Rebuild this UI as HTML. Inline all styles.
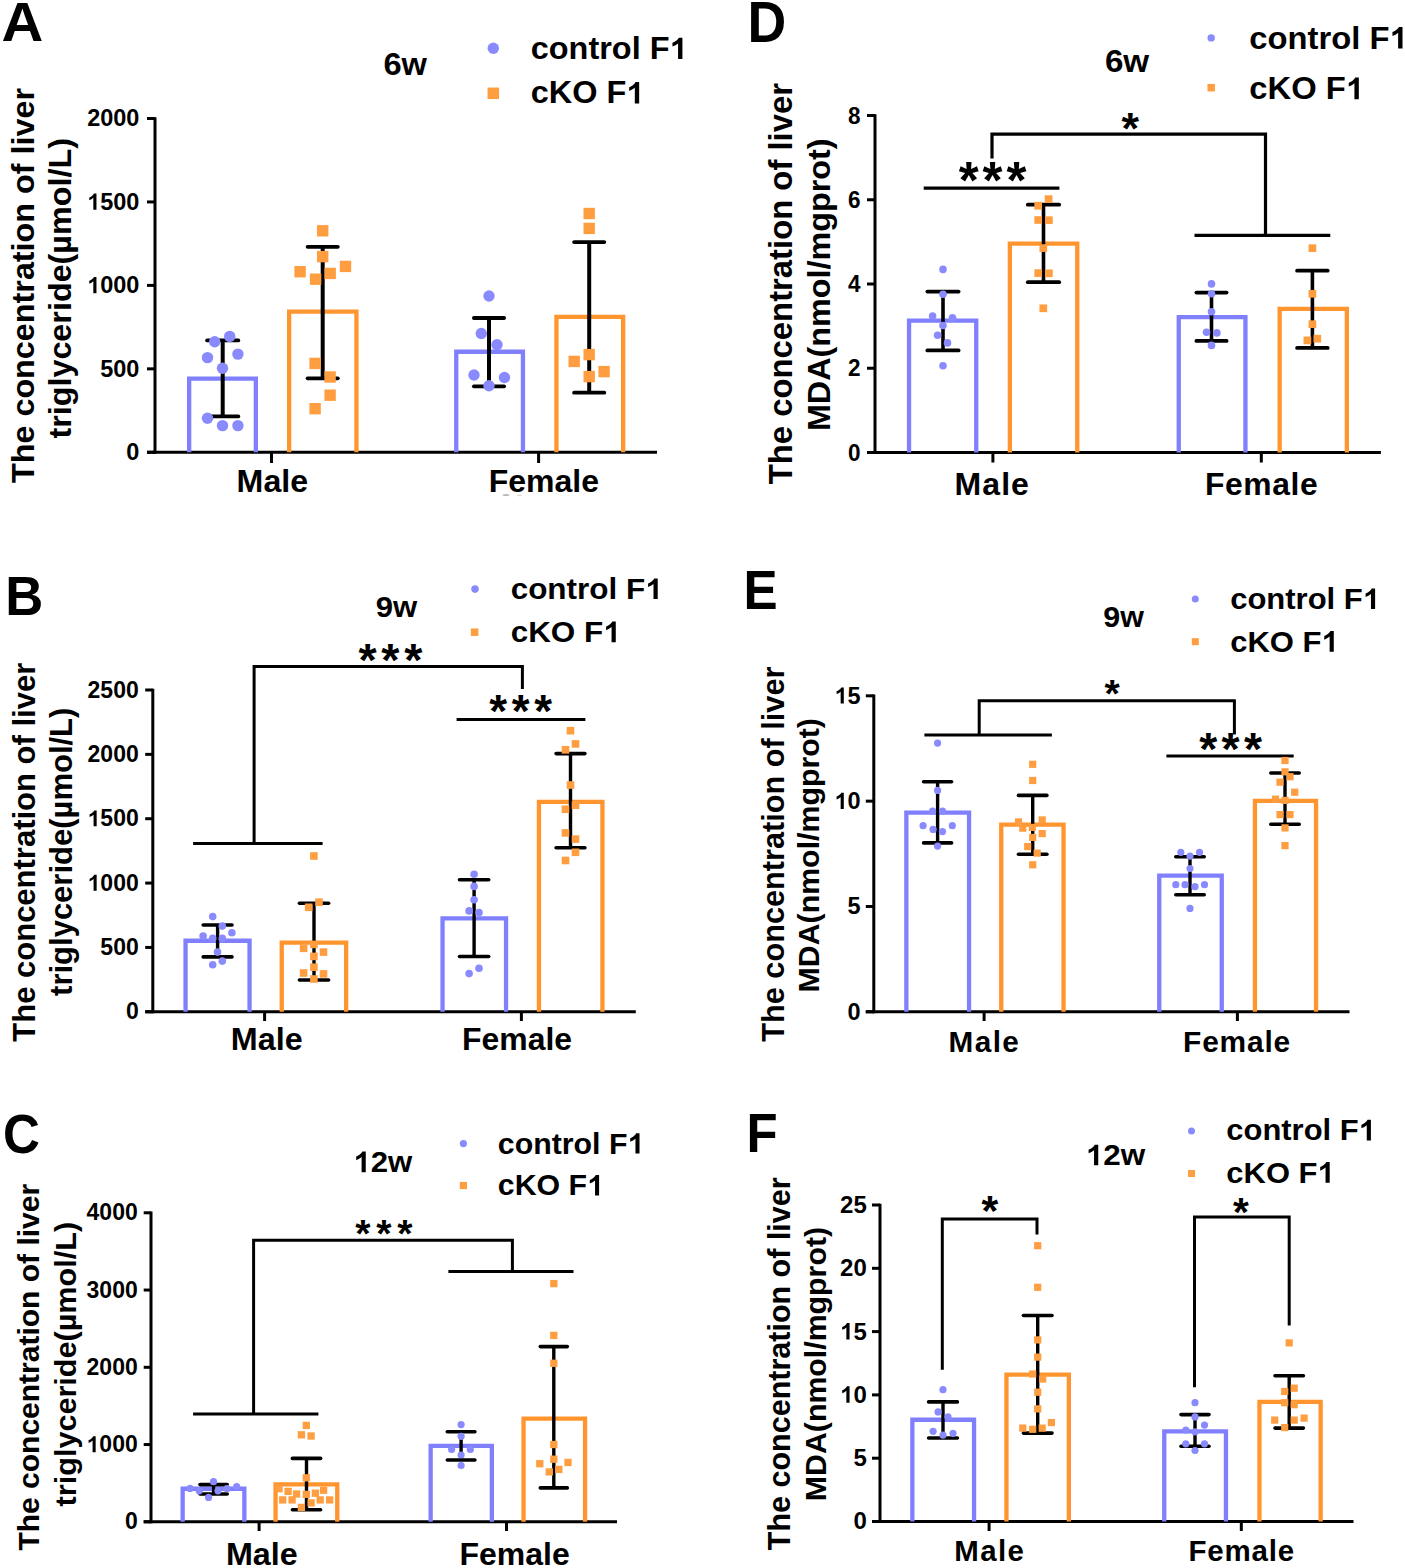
<!DOCTYPE html>
<html><head><meta charset="utf-8"><title>Figure</title>
<style>
html,body{margin:0;padding:0;background:#fff;}
body{width:1405px;height:1568px;overflow:hidden;}
svg{display:block;}
text{font-family:"Liberation Sans", sans-serif;fill:#000;font-kerning:none;}
</style></head>
<body>
<svg width="1405" height="1568" viewBox="0 0 1405 1568">
<rect width="1405" height="1568" fill="#fff"/>
<text transform="translate(1.55 41.4) scale(1.0300 1)" font-size="56.2" font-weight="bold">A</text>
<text transform="translate(383.46 75.4) scale(1.0192 1)" font-size="32" font-weight="bold">6w</text>
<circle cx="493.3" cy="48.2" r="5.7" fill="#8A8AFF"/>
<rect x="487.55" y="87.55" width="11.5" height="11.5" fill="#FF9E40"/>
<g transform="translate(530.7 59) scale(1.0472 1)"><text x="0" y="0" font-size="31" font-weight="bold">control F </text><path transform="translate(132.6 0) scale(0.01514 -0.01514)" d="M811 0H537V1032C437 938 319 869 183 824V1072C255 1095 333 1139 417 1203C501 1268 559 1343 590 1409H811Z"/></g>
<g transform="translate(530.7 103.4) scale(1.0472 1)"><text x="0" y="0" font-size="31" font-weight="bold">cKO F </text><path transform="translate(91.29 0) scale(0.01514 -0.01514)" d="M811 0H537V1032C437 938 319 869 183 824V1072C255 1095 333 1139 417 1203C501 1268 559 1343 590 1409H811Z"/></g>
<line x1="155" y1="117.3" x2="155" y2="453.8" stroke="#000" stroke-width="3" stroke-linecap="butt"/>
<line x1="147" y1="452.3" x2="657" y2="452.3" stroke="#000" stroke-width="3" stroke-linecap="butt"/>
<line x1="147" y1="452.3" x2="155" y2="452.3" stroke="#000" stroke-width="3" stroke-linecap="butt"/>
<text transform="translate(126.37 460.06)" font-size="23.5" font-weight="bold">0</text>
<line x1="147" y1="368.85" x2="155" y2="368.85" stroke="#000" stroke-width="3" stroke-linecap="butt"/>
<text transform="translate(100.23 376.61)" font-size="23.5" font-weight="bold">500</text>
<line x1="147" y1="285.4" x2="155" y2="285.4" stroke="#000" stroke-width="3" stroke-linecap="butt"/>
<g transform="translate(87.16 293.15)"><text x="0" y="0" font-size="23.5" font-weight="bold"> 000</text><path transform="translate(0 0) scale(0.01147 -0.01147)" d="M811 0H537V1032C437 938 319 869 183 824V1072C255 1095 333 1139 417 1203C501 1268 559 1343 590 1409H811Z"/></g>
<line x1="147" y1="201.95" x2="155" y2="201.95" stroke="#000" stroke-width="3" stroke-linecap="butt"/>
<g transform="translate(87.16 209.7)"><text x="0" y="0" font-size="23.5" font-weight="bold"> 500</text><path transform="translate(0 0) scale(0.01147 -0.01147)" d="M811 0H537V1032C437 938 319 869 183 824V1072C255 1095 333 1139 417 1203C501 1268 559 1343 590 1409H811Z"/></g>
<line x1="147" y1="118.5" x2="155" y2="118.5" stroke="#000" stroke-width="3" stroke-linecap="butt"/>
<text transform="translate(87.16 126.25)" font-size="23.5" font-weight="bold">2000</text>
<line x1="271.5" y1="452.3" x2="271.5" y2="463" stroke="#000" stroke-width="3" stroke-linecap="butt"/>
<line x1="538.6" y1="452.3" x2="538.6" y2="463" stroke="#000" stroke-width="3" stroke-linecap="butt"/>
<text transform="translate(236.61 491.6) scale(1.0377 1)" font-size="31" font-weight="bold">Male</text>
<text transform="translate(488.72 491.7) scale(1.0328 1)" font-size="31" font-weight="bold">Female</text>
<text transform="translate(33.5 483.02) rotate(-90) scale(1.01 1)" font-size="32" font-weight="bold">The concentration of liver</text>
<text transform="translate(71 438.62) rotate(-90) scale(1.01 1)" font-size="32" font-weight="bold">triglyceride(µmol/L)</text>
<path d="M189.15 452.3 V378.65 H255.85 V452.3" fill="none" stroke="#8080FF" stroke-width="4.3" stroke-linejoin="miter"/>
<path d="M289.15 452.3 V311.65 H356.45 V452.3" fill="none" stroke="#FF952E" stroke-width="4.3" stroke-linejoin="miter"/>
<path d="M456.25 452.3 V351.75 H522.95 V452.3" fill="none" stroke="#8080FF" stroke-width="4.3" stroke-linejoin="miter"/>
<path d="M556.45 452.3 V316.95 H623.15 V452.3" fill="none" stroke="#FF952E" stroke-width="4.3" stroke-linejoin="miter"/>
<line x1="222.7" y1="340.4" x2="222.7" y2="416.4" stroke="#000" stroke-width="4" stroke-linecap="butt"/>
<line x1="207.1" y1="340.4" x2="238.3" y2="340.4" stroke="#000" stroke-width="3.8" stroke-linecap="round"/>
<line x1="207.1" y1="416.4" x2="238.3" y2="416.4" stroke="#000" stroke-width="3.8" stroke-linecap="round"/>
<line x1="322.7" y1="246.8" x2="322.7" y2="378.3" stroke="#000" stroke-width="4" stroke-linecap="butt"/>
<line x1="307.6" y1="246.8" x2="337.8" y2="246.8" stroke="#000" stroke-width="3.8" stroke-linecap="round"/>
<line x1="307.6" y1="378.3" x2="337.8" y2="378.3" stroke="#000" stroke-width="3.8" stroke-linecap="round"/>
<line x1="489" y1="318" x2="489" y2="386.3" stroke="#000" stroke-width="4" stroke-linecap="butt"/>
<line x1="473.9" y1="318" x2="504.1" y2="318" stroke="#000" stroke-width="3.8" stroke-linecap="round"/>
<line x1="473.9" y1="386.3" x2="504.1" y2="386.3" stroke="#000" stroke-width="3.8" stroke-linecap="round"/>
<line x1="589.2" y1="242.1" x2="589.2" y2="392.7" stroke="#000" stroke-width="4" stroke-linecap="butt"/>
<line x1="574.1" y1="242.1" x2="604.3" y2="242.1" stroke="#000" stroke-width="3.8" stroke-linecap="round"/>
<line x1="574.1" y1="392.7" x2="604.3" y2="392.7" stroke="#000" stroke-width="3.8" stroke-linecap="round"/>
<circle cx="214.7" cy="341.7" r="5.7" fill="#8A8AFF"/>
<circle cx="229.7" cy="336.4" r="5.7" fill="#8A8AFF"/>
<circle cx="237.9" cy="354.1" r="5.7" fill="#8A8AFF"/>
<circle cx="207.5" cy="357.6" r="5.7" fill="#8A8AFF"/>
<circle cx="222.5" cy="368.3" r="5.7" fill="#8A8AFF"/>
<circle cx="207.5" cy="418.2" r="5.7" fill="#8A8AFF"/>
<circle cx="222.5" cy="425.6" r="5.7" fill="#8A8AFF"/>
<circle cx="237.9" cy="425.6" r="5.7" fill="#8A8AFF"/>
<circle cx="489" cy="296" r="5.7" fill="#8A8AFF"/>
<circle cx="481.3" cy="333.5" r="5.7" fill="#8A8AFF"/>
<circle cx="497" cy="344.7" r="5.7" fill="#8A8AFF"/>
<circle cx="474" cy="375" r="5.7" fill="#8A8AFF"/>
<circle cx="504.5" cy="377.5" r="5.7" fill="#8A8AFF"/>
<circle cx="489" cy="385.8" r="5.7" fill="#8A8AFF"/>
<rect x="317" y="225.1" width="11.4" height="11.4" fill="#FF9E40"/>
<rect x="317" y="250.9" width="11.4" height="11.4" fill="#FF9E40"/>
<rect x="294.4" y="266" width="11.4" height="11.4" fill="#FF9E40"/>
<rect x="339.8" y="260.7" width="11.4" height="11.4" fill="#FF9E40"/>
<rect x="324.5" y="267.7" width="11.4" height="11.4" fill="#FF9E40"/>
<rect x="309.9" y="273.5" width="11.4" height="11.4" fill="#FF9E40"/>
<rect x="309.4" y="357.7" width="11.4" height="11.4" fill="#FF9E40"/>
<rect x="324.4" y="371.3" width="11.4" height="11.4" fill="#FF9E40"/>
<rect x="324.4" y="389.5" width="11.4" height="11.4" fill="#FF9E40"/>
<rect x="309.4" y="403" width="11.4" height="11.4" fill="#FF9E40"/>
<rect x="583.5" y="207.8" width="11.4" height="11.4" fill="#FF9E40"/>
<rect x="583.5" y="222.7" width="11.4" height="11.4" fill="#FF9E40"/>
<rect x="583.5" y="348.9" width="11.4" height="11.4" fill="#FF9E40"/>
<rect x="568.5" y="355.7" width="11.4" height="11.4" fill="#FF9E40"/>
<rect x="598.4" y="365.9" width="11.4" height="11.4" fill="#FF9E40"/>
<rect x="583.5" y="370.9" width="11.4" height="11.4" fill="#FF9E40"/>
<text transform="translate(5.18 614.8) scale(0.9440 1)" font-size="55.8" font-weight="bold">B</text>
<text transform="translate(375.81 616.8) scale(1.0716 1)" font-size="29" font-weight="bold">9w</text>
<circle cx="475" cy="589.1" r="3.8" fill="#8A8AFF"/>
<rect x="470.85" y="628.45" width="7.5" height="7.5" fill="#FF9E40"/>
<g transform="translate(510.64 599.1) scale(1.0490 1)"><text x="0" y="0" font-size="30" font-weight="bold">control F </text><path transform="translate(128.32 0) scale(0.01465 -0.01465)" d="M811 0H537V1032C437 938 319 869 183 824V1072C255 1095 333 1139 417 1203C501 1268 559 1343 590 1409H811Z"/></g>
<g transform="translate(510.64 642.2) scale(1.0490 1)"><text x="0" y="0" font-size="30" font-weight="bold">cKO F </text><path transform="translate(88.34 0) scale(0.01465 -0.01465)" d="M811 0H537V1032C437 938 319 869 183 824V1072C255 1095 333 1139 417 1203C501 1268 559 1343 590 1409H811Z"/></g>
<line x1="152.8" y1="688.8" x2="152.8" y2="1013.3" stroke="#000" stroke-width="3" stroke-linecap="butt"/>
<line x1="145.2" y1="1011.8" x2="635.8" y2="1011.8" stroke="#000" stroke-width="3" stroke-linecap="butt"/>
<line x1="145.2" y1="1011.8" x2="152.8" y2="1011.8" stroke="#000" stroke-width="3" stroke-linecap="butt"/>
<text transform="translate(125.93 1019.39)" font-size="23" font-weight="bold">0</text>
<line x1="145.2" y1="947.44" x2="152.8" y2="947.44" stroke="#000" stroke-width="3" stroke-linecap="butt"/>
<text transform="translate(100.35 955.03)" font-size="23" font-weight="bold">500</text>
<line x1="145.2" y1="883.08" x2="152.8" y2="883.08" stroke="#000" stroke-width="3" stroke-linecap="butt"/>
<g transform="translate(87.55 890.67)"><text x="0" y="0" font-size="23" font-weight="bold"> 000</text><path transform="translate(0 0) scale(0.01123 -0.01123)" d="M811 0H537V1032C437 938 319 869 183 824V1072C255 1095 333 1139 417 1203C501 1268 559 1343 590 1409H811Z"/></g>
<line x1="145.2" y1="818.72" x2="152.8" y2="818.72" stroke="#000" stroke-width="3" stroke-linecap="butt"/>
<g transform="translate(87.55 826.31)"><text x="0" y="0" font-size="23" font-weight="bold"> 500</text><path transform="translate(0 0) scale(0.01123 -0.01123)" d="M811 0H537V1032C437 938 319 869 183 824V1072C255 1095 333 1139 417 1203C501 1268 559 1343 590 1409H811Z"/></g>
<line x1="145.2" y1="754.36" x2="152.8" y2="754.36" stroke="#000" stroke-width="3" stroke-linecap="butt"/>
<text transform="translate(87.55 761.95)" font-size="23" font-weight="bold">2000</text>
<line x1="145.2" y1="690" x2="152.8" y2="690" stroke="#000" stroke-width="3" stroke-linecap="butt"/>
<text transform="translate(87.55 697.59)" font-size="23" font-weight="bold">2500</text>
<line x1="264.6" y1="1011.8" x2="264.6" y2="1021" stroke="#000" stroke-width="3" stroke-linecap="butt"/>
<line x1="521.4" y1="1011.8" x2="521.4" y2="1021" stroke="#000" stroke-width="3" stroke-linecap="butt"/>
<text transform="translate(230.8 1049.9) scale(1.0423 1)" font-size="31" font-weight="bold">Male</text>
<text transform="translate(462.02 1050.4) scale(1.0309 1)" font-size="31" font-weight="bold">Female</text>
<text transform="translate(34.8 1041.71) rotate(-90) scale(1 1)" font-size="31" font-weight="bold">The concentration of liver</text>
<text transform="translate(71.9 995.91) rotate(-90) scale(1 1)" font-size="31" font-weight="bold">triglyceride(µmol/L)</text>
<path d="M185.55 1011.8 V940.75 H249.55 V1011.8" fill="none" stroke="#8080FF" stroke-width="4.3" stroke-linejoin="miter"/>
<path d="M281.75 1011.8 V942.65 H346.15 V1011.8" fill="none" stroke="#FF952E" stroke-width="4.3" stroke-linejoin="miter"/>
<path d="M442.55 1011.8 V918.45 H506.05 V1011.8" fill="none" stroke="#8080FF" stroke-width="4.3" stroke-linejoin="miter"/>
<path d="M538.95 1011.8 V801.85 H602.45 V1011.8" fill="none" stroke="#FF952E" stroke-width="4.3" stroke-linejoin="miter"/>
<line x1="217.6" y1="925" x2="217.6" y2="956.9" stroke="#000" stroke-width="3.4" stroke-linecap="butt"/>
<line x1="203.2" y1="925" x2="232" y2="925" stroke="#000" stroke-width="3.6" stroke-linecap="round"/>
<line x1="203.2" y1="956.9" x2="232" y2="956.9" stroke="#000" stroke-width="3.6" stroke-linecap="round"/>
<line x1="314" y1="903.2" x2="314" y2="980" stroke="#000" stroke-width="3.4" stroke-linecap="butt"/>
<line x1="299.4" y1="903.2" x2="328.6" y2="903.2" stroke="#000" stroke-width="3.6" stroke-linecap="round"/>
<line x1="299.4" y1="980" x2="328.6" y2="980" stroke="#000" stroke-width="3.6" stroke-linecap="round"/>
<line x1="474.1" y1="879.7" x2="474.1" y2="956.5" stroke="#000" stroke-width="3.4" stroke-linecap="butt"/>
<line x1="459.5" y1="879.7" x2="488.7" y2="879.7" stroke="#000" stroke-width="3.6" stroke-linecap="round"/>
<line x1="459.5" y1="956.5" x2="488.7" y2="956.5" stroke="#000" stroke-width="3.6" stroke-linecap="round"/>
<line x1="570.5" y1="753.6" x2="570.5" y2="847.8" stroke="#000" stroke-width="3.4" stroke-linecap="butt"/>
<line x1="556.1" y1="753.6" x2="584.9" y2="753.6" stroke="#000" stroke-width="3.6" stroke-linecap="round"/>
<line x1="556.1" y1="847.8" x2="584.9" y2="847.8" stroke="#000" stroke-width="3.6" stroke-linecap="round"/>
<polyline points="193.1,843.6 322.6,843.6" fill="none" stroke="#000" stroke-width="3" stroke-linejoin="miter" stroke-linecap="butt"/>
<polyline points="254.1,843.6 254.1,666.6 522.4,666.6 522.4,689" fill="none" stroke="#000" stroke-width="3" stroke-linejoin="miter" stroke-linecap="butt"/>
<polyline points="456.6,719.4 585.4,719.4" fill="none" stroke="#000" stroke-width="3" stroke-linejoin="miter" stroke-linecap="butt"/>
<text x="358.47" y="675.94" font-size="46.7" font-weight="bold">*</text>
<text x="381.34" y="675.94" font-size="46.7" font-weight="bold">*</text>
<text x="404.22" y="675.94" font-size="46.7" font-weight="bold">*</text>
<text x="489.27" y="727.17" font-size="45.84" font-weight="bold">*</text>
<text x="511.71" y="727.17" font-size="45.84" font-weight="bold">*</text>
<text x="534.15" y="727.17" font-size="45.84" font-weight="bold">*</text>
<circle cx="212.7" cy="916.6" r="3.8" fill="#8A8AFF"/>
<circle cx="222.3" cy="926.1" r="3.8" fill="#8A8AFF"/>
<circle cx="231.9" cy="932.7" r="3.8" fill="#8A8AFF"/>
<circle cx="203.1" cy="936.1" r="3.8" fill="#8A8AFF"/>
<circle cx="212.7" cy="938.4" r="3.8" fill="#8A8AFF"/>
<circle cx="222.3" cy="938.4" r="3.8" fill="#8A8AFF"/>
<circle cx="217.5" cy="952.1" r="3.8" fill="#8A8AFF"/>
<circle cx="222.3" cy="961.1" r="3.8" fill="#8A8AFF"/>
<circle cx="212.7" cy="964.7" r="3.8" fill="#8A8AFF"/>
<circle cx="474.1" cy="874.2" r="3.8" fill="#8A8AFF"/>
<circle cx="474.1" cy="886.4" r="3.8" fill="#8A8AFF"/>
<circle cx="474.1" cy="899.7" r="3.8" fill="#8A8AFF"/>
<circle cx="469.1" cy="910.9" r="3.8" fill="#8A8AFF"/>
<circle cx="479" cy="912.6" r="3.8" fill="#8A8AFF"/>
<circle cx="479" cy="968.2" r="3.8" fill="#8A8AFF"/>
<circle cx="469.1" cy="973.6" r="3.8" fill="#8A8AFF"/>
<rect x="310.1" y="852.2" width="7.6" height="7.6" fill="#FF9E40"/>
<rect x="315.2" y="898.4" width="7.6" height="7.6" fill="#FF9E40"/>
<rect x="304.9" y="903.5" width="7.6" height="7.6" fill="#FF9E40"/>
<rect x="310.1" y="940.6" width="7.6" height="7.6" fill="#FF9E40"/>
<rect x="299.8" y="944.5" width="7.6" height="7.6" fill="#FF9E40"/>
<rect x="319.7" y="948.3" width="7.6" height="7.6" fill="#FF9E40"/>
<rect x="310.1" y="952.6" width="7.6" height="7.6" fill="#FF9E40"/>
<rect x="310.1" y="963.4" width="7.6" height="7.6" fill="#FF9E40"/>
<rect x="299.8" y="969.2" width="7.6" height="7.6" fill="#FF9E40"/>
<rect x="319.7" y="970.1" width="7.6" height="7.6" fill="#FF9E40"/>
<rect x="310.1" y="975.2" width="7.6" height="7.6" fill="#FF9E40"/>
<rect x="566.7" y="726.9" width="7.6" height="7.6" fill="#FF9E40"/>
<rect x="571.7" y="740.1" width="7.6" height="7.6" fill="#FF9E40"/>
<rect x="561.7" y="746" width="7.6" height="7.6" fill="#FF9E40"/>
<rect x="566.7" y="781.2" width="7.6" height="7.6" fill="#FF9E40"/>
<rect x="571.7" y="801.4" width="7.6" height="7.6" fill="#FF9E40"/>
<rect x="561.7" y="805.5" width="7.6" height="7.6" fill="#FF9E40"/>
<rect x="561.7" y="829.1" width="7.6" height="7.6" fill="#FF9E40"/>
<rect x="571.7" y="835.3" width="7.6" height="7.6" fill="#FF9E40"/>
<rect x="571.7" y="848.5" width="7.6" height="7.6" fill="#FF9E40"/>
<rect x="561.7" y="856.7" width="7.6" height="7.6" fill="#FF9E40"/>
<text transform="translate(2.96 1152.8) scale(0.9150 1)" font-size="55.8" font-weight="bold">C</text>
<g transform="translate(353.43 1172.2) scale(1.0383 1)"><text x="0" y="0" font-size="30" font-weight="bold"> 2w</text><path transform="translate(0 0) scale(0.01465 -0.01465)" d="M811 0H537V1032C437 938 319 869 183 824V1072C255 1095 333 1139 417 1203C501 1268 559 1343 590 1409H811Z"/></g>
<circle cx="463.4" cy="1143.6" r="3.6" fill="#8A8AFF"/>
<rect x="459.8" y="1181.9" width="7.2" height="7.2" fill="#FF9E40"/>
<g transform="translate(497.79 1153.6) scale(1.0280 1)"><text x="0" y="0" font-size="29.5" font-weight="bold">control F </text><path transform="translate(126.18 0) scale(0.01440 -0.01440)" d="M811 0H537V1032C437 938 319 869 183 824V1072C255 1095 333 1139 417 1203C501 1268 559 1343 590 1409H811Z"/></g>
<g transform="translate(497.79 1195.4) scale(1.0280 1)"><text x="0" y="0" font-size="29.5" font-weight="bold">cKO F </text><path transform="translate(86.87 0) scale(0.01440 -0.01440)" d="M811 0H537V1032C437 938 319 869 183 824V1072C255 1095 333 1139 417 1203C501 1268 559 1343 590 1409H811Z"/></g>
<line x1="151" y1="1211.6" x2="151" y2="1523.3" stroke="#000" stroke-width="3" stroke-linecap="butt"/>
<line x1="143.7" y1="1521.8" x2="617" y2="1521.8" stroke="#000" stroke-width="3" stroke-linecap="butt"/>
<line x1="143.7" y1="1521.8" x2="151" y2="1521.8" stroke="#000" stroke-width="3" stroke-linecap="butt"/>
<text transform="translate(124.93 1529.39)" font-size="23" font-weight="bold">0</text>
<line x1="143.7" y1="1444.55" x2="151" y2="1444.55" stroke="#000" stroke-width="3" stroke-linecap="butt"/>
<g transform="translate(86.55 1452.14)"><text x="0" y="0" font-size="23" font-weight="bold"> 000</text><path transform="translate(0 0) scale(0.01123 -0.01123)" d="M811 0H537V1032C437 938 319 869 183 824V1072C255 1095 333 1139 417 1203C501 1268 559 1343 590 1409H811Z"/></g>
<line x1="143.7" y1="1367.3" x2="151" y2="1367.3" stroke="#000" stroke-width="3" stroke-linecap="butt"/>
<text transform="translate(86.55 1374.89)" font-size="23" font-weight="bold">2000</text>
<line x1="143.7" y1="1290.05" x2="151" y2="1290.05" stroke="#000" stroke-width="3" stroke-linecap="butt"/>
<text transform="translate(86.55 1297.64)" font-size="23" font-weight="bold">3000</text>
<line x1="143.7" y1="1212.8" x2="151" y2="1212.8" stroke="#000" stroke-width="3" stroke-linecap="butt"/>
<text transform="translate(86.55 1220.39)" font-size="23" font-weight="bold">4000</text>
<line x1="259.1" y1="1521.8" x2="259.1" y2="1531" stroke="#000" stroke-width="3" stroke-linecap="butt"/>
<line x1="506.5" y1="1521.8" x2="506.5" y2="1531" stroke="#000" stroke-width="3" stroke-linecap="butt"/>
<text transform="translate(225.9 1564.6) scale(1.0423 1)" font-size="31" font-weight="bold">Male</text>
<text transform="translate(459.52 1564.6) scale(1.0328 1)" font-size="31" font-weight="bold">Female</text>
<text transform="translate(38.5 1550.6) rotate(-90) scale(1 1)" font-size="30" font-weight="bold">The concentration of liver</text>
<text transform="translate(75.5 1506.4) rotate(-90) scale(1.02 1)" font-size="30" font-weight="bold">triglyceride(µmol/L)</text>
<path d="M182.65 1521.8 V1488.75 H244.35 V1521.8" fill="none" stroke="#8080FF" stroke-width="4.3" stroke-linejoin="miter"/>
<path d="M275.55 1521.8 V1484.45 H337.25 V1521.8" fill="none" stroke="#FF952E" stroke-width="4.3" stroke-linejoin="miter"/>
<path d="M430.65 1521.8 V1445.95 H491.85 V1521.8" fill="none" stroke="#8080FF" stroke-width="4.3" stroke-linejoin="miter"/>
<path d="M523.55 1521.8 V1418.55 H585.05 V1521.8" fill="none" stroke="#FF952E" stroke-width="4.3" stroke-linejoin="miter"/>
<line x1="213.6" y1="1484.6" x2="213.6" y2="1494" stroke="#000" stroke-width="3.4" stroke-linecap="butt"/>
<line x1="200" y1="1484.6" x2="227.2" y2="1484.6" stroke="#000" stroke-width="3.6" stroke-linecap="round"/>
<line x1="200" y1="1494" x2="227.2" y2="1494" stroke="#000" stroke-width="3.6" stroke-linecap="round"/>
<line x1="306.5" y1="1458.4" x2="306.5" y2="1509.8" stroke="#000" stroke-width="3.4" stroke-linecap="butt"/>
<line x1="292.4" y1="1458.4" x2="320.6" y2="1458.4" stroke="#000" stroke-width="3.6" stroke-linecap="round"/>
<line x1="292.4" y1="1509.8" x2="320.6" y2="1509.8" stroke="#000" stroke-width="3.6" stroke-linecap="round"/>
<line x1="461.1" y1="1431.8" x2="461.1" y2="1460" stroke="#000" stroke-width="3.4" stroke-linecap="butt"/>
<line x1="447.3" y1="1431.8" x2="474.9" y2="1431.8" stroke="#000" stroke-width="3.6" stroke-linecap="round"/>
<line x1="447.3" y1="1460" x2="474.9" y2="1460" stroke="#000" stroke-width="3.6" stroke-linecap="round"/>
<line x1="553.8" y1="1346.6" x2="553.8" y2="1487.9" stroke="#000" stroke-width="3.4" stroke-linecap="butt"/>
<line x1="540.3" y1="1346.6" x2="567.3" y2="1346.6" stroke="#000" stroke-width="3.6" stroke-linecap="round"/>
<line x1="540.3" y1="1487.9" x2="567.3" y2="1487.9" stroke="#000" stroke-width="3.6" stroke-linecap="round"/>
<polyline points="193.1,1413.9 318.4,1413.9" fill="none" stroke="#000" stroke-width="3" stroke-linejoin="miter" stroke-linecap="butt"/>
<polyline points="253.6,1413.9 253.6,1240.3 512.4,1240.3 512.4,1271.4" fill="none" stroke="#000" stroke-width="3" stroke-linejoin="miter" stroke-linecap="butt"/>
<polyline points="448.4,1271.4 573.5,1271.4" fill="none" stroke="#000" stroke-width="3" stroke-linejoin="miter" stroke-linecap="butt"/>
<text x="355.3" y="1247.06" font-size="39.25" font-weight="bold">*</text>
<text x="376.25" y="1247.06" font-size="39.25" font-weight="bold">*</text>
<text x="397.19" y="1247.06" font-size="39.25" font-weight="bold">*</text>
<circle cx="213.5" cy="1481.7" r="3.6" fill="#8A8AFF"/>
<circle cx="190.1" cy="1488.4" r="3.6" fill="#8A8AFF"/>
<circle cx="236.7" cy="1486.5" r="3.6" fill="#8A8AFF"/>
<circle cx="227" cy="1488.7" r="3.6" fill="#8A8AFF"/>
<circle cx="199.2" cy="1490.8" r="3.6" fill="#8A8AFF"/>
<circle cx="218" cy="1490.8" r="3.6" fill="#8A8AFF"/>
<circle cx="208.6" cy="1497.4" r="3.6" fill="#8A8AFF"/>
<circle cx="461.1" cy="1424.6" r="3.6" fill="#8A8AFF"/>
<circle cx="461.1" cy="1436.3" r="3.6" fill="#8A8AFF"/>
<circle cx="451.6" cy="1449.5" r="3.6" fill="#8A8AFF"/>
<circle cx="470.3" cy="1449.5" r="3.6" fill="#8A8AFF"/>
<circle cx="461.1" cy="1455" r="3.6" fill="#8A8AFF"/>
<circle cx="461.1" cy="1465.5" r="3.6" fill="#8A8AFF"/>
<rect x="302.65" y="1421.75" width="7.3" height="7.3" fill="#FF9E40"/>
<rect x="297.75" y="1431.15" width="7.3" height="7.3" fill="#FF9E40"/>
<rect x="307.45" y="1432.35" width="7.3" height="7.3" fill="#FF9E40"/>
<rect x="302.65" y="1474.15" width="7.3" height="7.3" fill="#FF9E40"/>
<rect x="275.35" y="1485.05" width="7.3" height="7.3" fill="#FF9E40"/>
<rect x="284.45" y="1487.75" width="7.3" height="7.3" fill="#FF9E40"/>
<rect x="292.95" y="1490.35" width="7.3" height="7.3" fill="#FF9E40"/>
<rect x="302.65" y="1490.75" width="7.3" height="7.3" fill="#FF9E40"/>
<rect x="311.75" y="1489.55" width="7.3" height="7.3" fill="#FF9E40"/>
<rect x="319.95" y="1486.55" width="7.3" height="7.3" fill="#FF9E40"/>
<rect x="279.05" y="1496.25" width="7.3" height="7.3" fill="#FF9E40"/>
<rect x="288.45" y="1496.25" width="7.3" height="7.3" fill="#FF9E40"/>
<rect x="316.55" y="1496.25" width="7.3" height="7.3" fill="#FF9E40"/>
<rect x="325.95" y="1496.25" width="7.3" height="7.3" fill="#FF9E40"/>
<rect x="307.45" y="1499.25" width="7.3" height="7.3" fill="#FF9E40"/>
<rect x="297.75" y="1503.75" width="7.3" height="7.3" fill="#FF9E40"/>
<rect x="550.15" y="1279.95" width="7.3" height="7.3" fill="#FF9E40"/>
<rect x="550.15" y="1331.75" width="7.3" height="7.3" fill="#FF9E40"/>
<rect x="550.15" y="1359.65" width="7.3" height="7.3" fill="#FF9E40"/>
<rect x="550.15" y="1440.85" width="7.3" height="7.3" fill="#FF9E40"/>
<rect x="550.15" y="1455.55" width="7.3" height="7.3" fill="#FF9E40"/>
<rect x="536.15" y="1460.05" width="7.3" height="7.3" fill="#FF9E40"/>
<rect x="564.35" y="1458.85" width="7.3" height="7.3" fill="#FF9E40"/>
<rect x="555.15" y="1465.75" width="7.3" height="7.3" fill="#FF9E40"/>
<rect x="545.65" y="1468.25" width="7.3" height="7.3" fill="#FF9E40"/>
<text transform="translate(747.51 41.5) scale(0.9500 1)" font-size="56.5" font-weight="bold">D</text>
<text transform="translate(1104.94 72.2) scale(1.0870 1)" font-size="30.5" font-weight="bold">6w</text>
<circle cx="1211.2" cy="37.9" r="3.7" fill="#8A8AFF"/>
<rect x="1207.45" y="83.95" width="7.5" height="7.5" fill="#FF9E40"/>
<g transform="translate(1249.29 48.6) scale(1.0408 1)"><text x="0" y="0" font-size="31.5" font-weight="bold">control F </text><path transform="translate(134.74 0) scale(0.01538 -0.01538)" d="M811 0H537V1032C437 938 319 869 183 824V1072C255 1095 333 1139 417 1203C501 1268 559 1343 590 1409H811Z"/></g>
<g transform="translate(1249.29 99.2) scale(1.0408 1)"><text x="0" y="0" font-size="31.5" font-weight="bold">cKO F </text><path transform="translate(92.76 0) scale(0.01538 -0.01538)" d="M811 0H537V1032C437 938 319 869 183 824V1072C255 1095 333 1139 417 1203C501 1268 559 1343 590 1409H811Z"/></g>
<line x1="875" y1="114.3" x2="875" y2="454" stroke="#000" stroke-width="3" stroke-linecap="butt"/>
<line x1="867" y1="452.5" x2="1380.9" y2="452.5" stroke="#000" stroke-width="3" stroke-linecap="butt"/>
<line x1="867" y1="452.5" x2="875" y2="452.5" stroke="#000" stroke-width="3" stroke-linecap="butt"/>
<text transform="translate(848.07 460.58) scale(0.9200 1)" font-size="24.5" font-weight="bold">0</text>
<line x1="867" y1="368.25" x2="875" y2="368.25" stroke="#000" stroke-width="3" stroke-linecap="butt"/>
<text transform="translate(848.07 376.33) scale(0.9200 1)" font-size="24.5" font-weight="bold">2</text>
<line x1="867" y1="284" x2="875" y2="284" stroke="#000" stroke-width="3" stroke-linecap="butt"/>
<text transform="translate(848.07 292.08) scale(0.9200 1)" font-size="24.5" font-weight="bold">4</text>
<line x1="867" y1="199.75" x2="875" y2="199.75" stroke="#000" stroke-width="3" stroke-linecap="butt"/>
<text transform="translate(848.07 207.84) scale(0.9200 1)" font-size="24.5" font-weight="bold">6</text>
<line x1="867" y1="115.5" x2="875" y2="115.5" stroke="#000" stroke-width="3" stroke-linecap="butt"/>
<text transform="translate(848.07 123.59) scale(0.9200 1)" font-size="24.5" font-weight="bold">8</text>
<line x1="992.9" y1="452.5" x2="992.9" y2="462.5" stroke="#000" stroke-width="3" stroke-linecap="butt"/>
<line x1="1261.3" y1="452.5" x2="1261.3" y2="462.5" stroke="#000" stroke-width="3" stroke-linecap="butt"/>
<text transform="translate(954.62 495.4) scale(1.0332 1)" font-size="31" font-weight="bold" letter-spacing="1">Male</text>
<text transform="translate(1204.93 494.8) scale(1.0272 1)" font-size="31" font-weight="bold" letter-spacing="0.6">Female</text>
<text transform="translate(791.5 484.23) rotate(-90) scale(1.01 1)" font-size="32.5" font-weight="bold">The concentration of liver</text>
<text transform="translate(830.4 431.1) rotate(-90) scale(1.01 1)" font-size="32" font-weight="bold">MDA(nmol/mgprot)</text>
<path d="M909.05 452.5 V320.65 H976.25 V452.5" fill="none" stroke="#8080FF" stroke-width="4.3" stroke-linejoin="miter"/>
<path d="M1009.85 452.5 V243.65 H1077.25 V452.5" fill="none" stroke="#FF952E" stroke-width="4.3" stroke-linejoin="miter"/>
<path d="M1178.75 452.5 V317.15 H1245.45 V452.5" fill="none" stroke="#8080FF" stroke-width="4.3" stroke-linejoin="miter"/>
<path d="M1279.65 452.5 V308.95 H1346.85 V452.5" fill="none" stroke="#FF952E" stroke-width="4.3" stroke-linejoin="miter"/>
<line x1="943" y1="291.6" x2="943" y2="350.4" stroke="#000" stroke-width="3.6" stroke-linecap="butt"/>
<line x1="927.4" y1="291.6" x2="958.6" y2="291.6" stroke="#000" stroke-width="3.8" stroke-linecap="round"/>
<line x1="927.4" y1="350.4" x2="958.6" y2="350.4" stroke="#000" stroke-width="3.8" stroke-linecap="round"/>
<line x1="1043.5" y1="204.7" x2="1043.5" y2="282.2" stroke="#000" stroke-width="3.6" stroke-linecap="butt"/>
<line x1="1027.8" y1="204.7" x2="1059.2" y2="204.7" stroke="#000" stroke-width="3.8" stroke-linecap="round"/>
<line x1="1027.8" y1="282.2" x2="1059.2" y2="282.2" stroke="#000" stroke-width="3.8" stroke-linecap="round"/>
<line x1="1211.5" y1="292.6" x2="1211.5" y2="340.9" stroke="#000" stroke-width="3.6" stroke-linecap="butt"/>
<line x1="1196.4" y1="292.6" x2="1226.6" y2="292.6" stroke="#000" stroke-width="3.8" stroke-linecap="round"/>
<line x1="1196.4" y1="340.9" x2="1226.6" y2="340.9" stroke="#000" stroke-width="3.8" stroke-linecap="round"/>
<line x1="1312.4" y1="270.7" x2="1312.4" y2="347.9" stroke="#000" stroke-width="3.6" stroke-linecap="butt"/>
<line x1="1297.1" y1="270.7" x2="1327.7" y2="270.7" stroke="#000" stroke-width="3.8" stroke-linecap="round"/>
<line x1="1297.1" y1="347.9" x2="1327.7" y2="347.9" stroke="#000" stroke-width="3.8" stroke-linecap="round"/>
<polyline points="923.7,188.2 1059.4,188.2" fill="none" stroke="#000" stroke-width="3.2" stroke-linejoin="miter" stroke-linecap="butt"/>
<polyline points="992,158.4 992,134.2 1265.5,134.2 1265.5,235.3" fill="none" stroke="#000" stroke-width="3.2" stroke-linejoin="miter" stroke-linecap="butt"/>
<polyline points="1194.5,235.3 1330.3,235.3" fill="none" stroke="#000" stroke-width="3.2" stroke-linejoin="miter" stroke-linecap="butt"/>
<text x="958.64" y="197.51" font-size="51.28" font-weight="bold">*</text>
<text x="982.55" y="197.51" font-size="51.28" font-weight="bold">*</text>
<text x="1006.46" y="197.51" font-size="51.28" font-weight="bold">*</text>
<text x="1121.58" y="143.79" font-size="44.98" font-weight="bold">*</text>
<circle cx="943" cy="269.4" r="3.8" fill="#8A8AFF"/>
<circle cx="943" cy="294.3" r="3.8" fill="#8A8AFF"/>
<circle cx="932.6" cy="316" r="3.8" fill="#8A8AFF"/>
<circle cx="952.5" cy="317.8" r="3.8" fill="#8A8AFF"/>
<circle cx="943" cy="325.5" r="3.8" fill="#8A8AFF"/>
<circle cx="937.6" cy="335.2" r="3.8" fill="#8A8AFF"/>
<circle cx="947.5" cy="342.9" r="3.8" fill="#8A8AFF"/>
<circle cx="943" cy="365.8" r="3.8" fill="#8A8AFF"/>
<circle cx="1211.5" cy="283.9" r="3.8" fill="#8A8AFF"/>
<circle cx="1211.5" cy="293.8" r="3.8" fill="#8A8AFF"/>
<circle cx="1211.5" cy="311.8" r="3.8" fill="#8A8AFF"/>
<circle cx="1206.5" cy="332.2" r="3.8" fill="#8A8AFF"/>
<circle cx="1216.9" cy="332.9" r="3.8" fill="#8A8AFF"/>
<circle cx="1211.5" cy="345.4" r="3.8" fill="#8A8AFF"/>
<rect x="1044.75" y="195.25" width="7.7" height="7.7" fill="#FF9E40"/>
<rect x="1034.35" y="201.85" width="7.7" height="7.7" fill="#FF9E40"/>
<rect x="1034.35" y="216.15" width="7.7" height="7.7" fill="#FF9E40"/>
<rect x="1045.05" y="216.35" width="7.7" height="7.7" fill="#FF9E40"/>
<rect x="1039.45" y="244.25" width="7.7" height="7.7" fill="#FF9E40"/>
<rect x="1034.35" y="269.25" width="7.7" height="7.7" fill="#FF9E40"/>
<rect x="1045.05" y="269.45" width="7.7" height="7.7" fill="#FF9E40"/>
<rect x="1039.45" y="304.45" width="7.7" height="7.7" fill="#FF9E40"/>
<rect x="1308.55" y="244.35" width="7.7" height="7.7" fill="#FF9E40"/>
<rect x="1308.55" y="289.95" width="7.7" height="7.7" fill="#FF9E40"/>
<rect x="1308.55" y="320.35" width="7.7" height="7.7" fill="#FF9E40"/>
<rect x="1303.55" y="336.55" width="7.7" height="7.7" fill="#FF9E40"/>
<rect x="1313.45" y="334.85" width="7.7" height="7.7" fill="#FF9E40"/>
<text transform="translate(743.48 609.1) scale(0.9150 1)" font-size="55.9" font-weight="bold">E</text>
<text transform="translate(1103.23 626.8) scale(1.0326 1)" font-size="29.5" font-weight="bold">9w</text>
<circle cx="1195.3" cy="599.1" r="3.5" fill="#8A8AFF"/>
<rect x="1191.8" y="638.2" width="7" height="7" fill="#FF9E40"/>
<g transform="translate(1230.16 609.1) scale(1.0339 1)"><text x="0" y="0" font-size="30" font-weight="bold">control F </text><path transform="translate(128.32 0) scale(0.01465 -0.01465)" d="M811 0H537V1032C437 938 319 869 183 824V1072C255 1095 333 1139 417 1203C501 1268 559 1343 590 1409H811Z"/></g>
<g transform="translate(1230.16 651.7) scale(1.0339 1)"><text x="0" y="0" font-size="30" font-weight="bold">cKO F </text><path transform="translate(88.34 0) scale(0.01465 -0.01465)" d="M811 0H537V1032C437 938 319 869 183 824V1072C255 1095 333 1139 417 1203C501 1268 559 1343 590 1409H811Z"/></g>
<line x1="873.8" y1="694.61" x2="873.8" y2="1013.3" stroke="#000" stroke-width="3" stroke-linecap="butt"/>
<line x1="865.8" y1="1011.8" x2="1349.5" y2="1011.8" stroke="#000" stroke-width="3" stroke-linecap="butt"/>
<line x1="865.8" y1="1011.8" x2="873.8" y2="1011.8" stroke="#000" stroke-width="3" stroke-linecap="butt"/>
<text transform="translate(847.57 1019.55)" font-size="23.5" font-weight="bold">0</text>
<line x1="865.8" y1="906.47" x2="873.8" y2="906.47" stroke="#000" stroke-width="3" stroke-linecap="butt"/>
<text transform="translate(847.57 914.22)" font-size="23.5" font-weight="bold">5</text>
<line x1="865.8" y1="801.14" x2="873.8" y2="801.14" stroke="#000" stroke-width="3" stroke-linecap="butt"/>
<g transform="translate(834.5 808.89)"><text x="0" y="0" font-size="23.5" font-weight="bold"> 0</text><path transform="translate(0 0) scale(0.01147 -0.01147)" d="M811 0H537V1032C437 938 319 869 183 824V1072C255 1095 333 1139 417 1203C501 1268 559 1343 590 1409H811Z"/></g>
<line x1="865.8" y1="695.81" x2="873.8" y2="695.81" stroke="#000" stroke-width="3" stroke-linecap="butt"/>
<g transform="translate(834.5 703.56)"><text x="0" y="0" font-size="23.5" font-weight="bold"> 5</text><path transform="translate(0 0) scale(0.01147 -0.01147)" d="M811 0H537V1032C437 938 319 869 183 824V1072C255 1095 333 1139 417 1203C501 1268 559 1343 590 1409H811Z"/></g>
<line x1="984.1" y1="1011.8" x2="984.1" y2="1021" stroke="#000" stroke-width="3" stroke-linecap="butt"/>
<line x1="1237.4" y1="1011.8" x2="1237.4" y2="1021" stroke="#000" stroke-width="3" stroke-linecap="butt"/>
<text transform="translate(948.57 1051.6) scale(1.0084 1)" font-size="29.5" font-weight="bold" letter-spacing="1.4">Male</text>
<text transform="translate(1183.05 1052.1) scale(1.0148 1)" font-size="29.5" font-weight="bold" letter-spacing="0.8">Female</text>
<text transform="translate(783.5 1041.71) rotate(-90) scale(1 1)" font-size="30.7" font-weight="bold">The concentration of liver</text>
<text transform="translate(819.3 992.38) rotate(-90) scale(1.01 1)" font-size="30" font-weight="bold">MDA(nmol/mgprot)</text>
<path d="M906.35 1011.8 V812.65 H969.05 V1011.8" fill="none" stroke="#8080FF" stroke-width="4.3" stroke-linejoin="miter"/>
<path d="M1001.25 1011.8 V824.55 H1063.55 V1011.8" fill="none" stroke="#FF952E" stroke-width="4.3" stroke-linejoin="miter"/>
<path d="M1159.25 1011.8 V875.65 H1221.75 V1011.8" fill="none" stroke="#8080FF" stroke-width="4.3" stroke-linejoin="miter"/>
<path d="M1254.95 1011.8 V800.85 H1316.05 V1011.8" fill="none" stroke="#FF952E" stroke-width="4.3" stroke-linejoin="miter"/>
<line x1="937.6" y1="781.7" x2="937.6" y2="842.9" stroke="#000" stroke-width="3.4" stroke-linecap="butt"/>
<line x1="923.6" y1="781.7" x2="951.6" y2="781.7" stroke="#000" stroke-width="3.6" stroke-linecap="round"/>
<line x1="923.6" y1="842.9" x2="951.6" y2="842.9" stroke="#000" stroke-width="3.6" stroke-linecap="round"/>
<line x1="1032.7" y1="795.4" x2="1032.7" y2="854.3" stroke="#000" stroke-width="3.4" stroke-linecap="butt"/>
<line x1="1018.5" y1="795.4" x2="1046.9" y2="795.4" stroke="#000" stroke-width="3.6" stroke-linecap="round"/>
<line x1="1018.5" y1="854.3" x2="1046.9" y2="854.3" stroke="#000" stroke-width="3.6" stroke-linecap="round"/>
<line x1="1190" y1="856.8" x2="1190" y2="894.7" stroke="#000" stroke-width="3.4" stroke-linecap="butt"/>
<line x1="1175.8" y1="856.8" x2="1204.2" y2="856.8" stroke="#000" stroke-width="3.6" stroke-linecap="round"/>
<line x1="1175.8" y1="894.7" x2="1204.2" y2="894.7" stroke="#000" stroke-width="3.6" stroke-linecap="round"/>
<line x1="1285" y1="773" x2="1285" y2="824.2" stroke="#000" stroke-width="3.4" stroke-linecap="butt"/>
<line x1="1270.8" y1="773" x2="1299.2" y2="773" stroke="#000" stroke-width="3.6" stroke-linecap="round"/>
<line x1="1270.8" y1="824.2" x2="1299.2" y2="824.2" stroke="#000" stroke-width="3.6" stroke-linecap="round"/>
<polyline points="924.4,735.1 1051.9,735.1" fill="none" stroke="#000" stroke-width="3" stroke-linejoin="miter" stroke-linecap="butt"/>
<polyline points="979.2,735.1 979.2,700.8 1234.4,700.8 1234.4,734.4" fill="none" stroke="#000" stroke-width="3" stroke-linejoin="miter" stroke-linecap="butt"/>
<polyline points="1166.4,756.1 1293.7,756.1" fill="none" stroke="#000" stroke-width="3" stroke-linejoin="miter" stroke-linecap="butt"/>
<text x="1104.6" y="707.06" font-size="39.25" font-weight="bold">*</text>
<text x="1199.27" y="765.45" font-size="46.41" font-weight="bold">*</text>
<text x="1221.6" y="765.45" font-size="46.41" font-weight="bold">*</text>
<text x="1243.93" y="765.45" font-size="46.41" font-weight="bold">*</text>
<circle cx="937.6" cy="743.1" r="3.6" fill="#8A8AFF"/>
<circle cx="937.6" cy="790.4" r="3.6" fill="#8A8AFF"/>
<circle cx="932.6" cy="811.2" r="3.6" fill="#8A8AFF"/>
<circle cx="942.5" cy="811.2" r="3.6" fill="#8A8AFF"/>
<circle cx="923.1" cy="825.7" r="3.6" fill="#8A8AFF"/>
<circle cx="952.3" cy="825.7" r="3.6" fill="#8A8AFF"/>
<circle cx="933.1" cy="829.4" r="3.6" fill="#8A8AFF"/>
<circle cx="942.5" cy="831.6" r="3.6" fill="#8A8AFF"/>
<circle cx="937.6" cy="846.1" r="3.6" fill="#8A8AFF"/>
<circle cx="1180.8" cy="852.3" r="3.6" fill="#8A8AFF"/>
<circle cx="1199.5" cy="852.3" r="3.6" fill="#8A8AFF"/>
<circle cx="1190" cy="856.1" r="3.6" fill="#8A8AFF"/>
<circle cx="1190" cy="868.5" r="3.6" fill="#8A8AFF"/>
<circle cx="1175.8" cy="884.7" r="3.6" fill="#8A8AFF"/>
<circle cx="1185" cy="884.7" r="3.6" fill="#8A8AFF"/>
<circle cx="1195" cy="886.7" r="3.6" fill="#8A8AFF"/>
<circle cx="1204.5" cy="884.7" r="3.6" fill="#8A8AFF"/>
<circle cx="1190" cy="908.4" r="3.6" fill="#8A8AFF"/>
<rect x="1029.1" y="760.7" width="7.2" height="7.2" fill="#FF9E40"/>
<rect x="1029.1" y="776.9" width="7.2" height="7.2" fill="#FF9E40"/>
<rect x="1014.9" y="818.3" width="7.2" height="7.2" fill="#FF9E40"/>
<rect x="1038.6" y="816.3" width="7.2" height="7.2" fill="#FF9E40"/>
<rect x="1019.2" y="824.6" width="7.2" height="7.2" fill="#FF9E40"/>
<rect x="1038.6" y="830" width="7.2" height="7.2" fill="#FF9E40"/>
<rect x="1028.7" y="823.8" width="7.2" height="7.2" fill="#FF9E40"/>
<rect x="1029.1" y="833.8" width="7.2" height="7.2" fill="#FF9E40"/>
<rect x="1024.1" y="843" width="7.2" height="7.2" fill="#FF9E40"/>
<rect x="1033.6" y="849.5" width="7.2" height="7.2" fill="#FF9E40"/>
<rect x="1029.1" y="861.2" width="7.2" height="7.2" fill="#FF9E40"/>
<rect x="1281.4" y="756.9" width="7.2" height="7.2" fill="#FF9E40"/>
<rect x="1281.4" y="768.2" width="7.2" height="7.2" fill="#FF9E40"/>
<rect x="1286.4" y="773.1" width="7.2" height="7.2" fill="#FF9E40"/>
<rect x="1276.4" y="778.6" width="7.2" height="7.2" fill="#FF9E40"/>
<rect x="1291.1" y="788.6" width="7.2" height="7.2" fill="#FF9E40"/>
<rect x="1271.9" y="795.6" width="7.2" height="7.2" fill="#FF9E40"/>
<rect x="1281.4" y="796.8" width="7.2" height="7.2" fill="#FF9E40"/>
<rect x="1276.4" y="811" width="7.2" height="7.2" fill="#FF9E40"/>
<rect x="1286.4" y="811" width="7.2" height="7.2" fill="#FF9E40"/>
<rect x="1281.4" y="824.3" width="7.2" height="7.2" fill="#FF9E40"/>
<rect x="1281.4" y="842" width="7.2" height="7.2" fill="#FF9E40"/>
<text transform="translate(746.49 1152.3) scale(0.9200 1)" font-size="55.4" font-weight="bold">F</text>
<g transform="translate(1085.8 1165.3) scale(1.0476 1)"><text x="0" y="0" font-size="30" font-weight="bold"> 2w</text><path transform="translate(0 0) scale(0.01465 -0.01465)" d="M811 0H537V1032C437 938 319 869 183 824V1072C255 1095 333 1139 417 1203C501 1268 559 1343 590 1409H811Z"/></g>
<circle cx="1191.5" cy="1131.1" r="3.5" fill="#8A8AFF"/>
<rect x="1188" y="1170" width="7" height="7" fill="#FF9E40"/>
<g transform="translate(1226.36 1140.4) scale(1.0310 1)"><text x="0" y="0" font-size="30" font-weight="bold">control F </text><path transform="translate(128.32 0) scale(0.01465 -0.01465)" d="M811 0H537V1032C437 938 319 869 183 824V1072C255 1095 333 1139 417 1203C501 1268 559 1343 590 1409H811Z"/></g>
<g transform="translate(1226.36 1182.7) scale(1.0310 1)"><text x="0" y="0" font-size="30" font-weight="bold">cKO F </text><path transform="translate(88.34 0) scale(0.01465 -0.01465)" d="M811 0H537V1032C437 938 319 869 183 824V1072C255 1095 333 1139 417 1203C501 1268 559 1343 590 1409H811Z"/></g>
<line x1="880" y1="1203.8" x2="880" y2="1523" stroke="#000" stroke-width="3" stroke-linecap="butt"/>
<line x1="872" y1="1521.5" x2="1353.5" y2="1521.5" stroke="#000" stroke-width="3" stroke-linecap="butt"/>
<line x1="872" y1="1521.5" x2="880" y2="1521.5" stroke="#000" stroke-width="3" stroke-linecap="butt"/>
<text transform="translate(853.41 1529.42)" font-size="24" font-weight="bold">0</text>
<line x1="872" y1="1458.2" x2="880" y2="1458.2" stroke="#000" stroke-width="3" stroke-linecap="butt"/>
<text transform="translate(853.41 1466.12)" font-size="24" font-weight="bold">5</text>
<line x1="872" y1="1394.9" x2="880" y2="1394.9" stroke="#000" stroke-width="3" stroke-linecap="butt"/>
<g transform="translate(840.06 1402.82)"><text x="0" y="0" font-size="24" font-weight="bold"> 0</text><path transform="translate(0 0) scale(0.01172 -0.01172)" d="M811 0H537V1032C437 938 319 869 183 824V1072C255 1095 333 1139 417 1203C501 1268 559 1343 590 1409H811Z"/></g>
<line x1="872" y1="1331.6" x2="880" y2="1331.6" stroke="#000" stroke-width="3" stroke-linecap="butt"/>
<g transform="translate(840.06 1339.52)"><text x="0" y="0" font-size="24" font-weight="bold"> 5</text><path transform="translate(0 0) scale(0.01172 -0.01172)" d="M811 0H537V1032C437 938 319 869 183 824V1072C255 1095 333 1139 417 1203C501 1268 559 1343 590 1409H811Z"/></g>
<line x1="872" y1="1268.3" x2="880" y2="1268.3" stroke="#000" stroke-width="3" stroke-linecap="butt"/>
<text transform="translate(840.06 1276.22)" font-size="24" font-weight="bold">20</text>
<line x1="872" y1="1205" x2="880" y2="1205" stroke="#000" stroke-width="3" stroke-linecap="butt"/>
<text transform="translate(840.06 1212.92)" font-size="24" font-weight="bold">25</text>
<line x1="989.1" y1="1521.5" x2="989.1" y2="1531" stroke="#000" stroke-width="3" stroke-linecap="butt"/>
<line x1="1241.3" y1="1521.5" x2="1241.3" y2="1531" stroke="#000" stroke-width="3" stroke-linecap="butt"/>
<text transform="translate(954.29 1560.9) scale(0.9979 1)" font-size="29.5" font-weight="bold" letter-spacing="1.4">Male</text>
<text transform="translate(1188.38 1560.9)" font-size="29.5" font-weight="bold" letter-spacing="0.8">Female</text>
<text transform="translate(790 1550.21) rotate(-90) scale(1 1)" font-size="30.5" font-weight="bold">The concentration of liver</text>
<text transform="translate(826 1501.17) rotate(-90) scale(1.01 1)" font-size="30" font-weight="bold">MDA(nmol/mgprot)</text>
<path d="M912.35 1521.5 V1419.75 H974.05 V1521.5" fill="none" stroke="#8080FF" stroke-width="4.3" stroke-linejoin="miter"/>
<path d="M1006.45 1521.5 V1374.55 H1068.85 V1521.5" fill="none" stroke="#FF952E" stroke-width="4.3" stroke-linejoin="miter"/>
<path d="M1164.25 1521.5 V1431.45 H1225.95 V1521.5" fill="none" stroke="#8080FF" stroke-width="4.3" stroke-linejoin="miter"/>
<path d="M1259.45 1521.5 V1401.85 H1320.65 V1521.5" fill="none" stroke="#FF952E" stroke-width="4.3" stroke-linejoin="miter"/>
<line x1="943" y1="1401.9" x2="943" y2="1438" stroke="#000" stroke-width="3.4" stroke-linecap="butt"/>
<line x1="928.6" y1="1401.9" x2="957.4" y2="1401.9" stroke="#000" stroke-width="3.6" stroke-linecap="round"/>
<line x1="928.6" y1="1438" x2="957.4" y2="1438" stroke="#000" stroke-width="3.6" stroke-linecap="round"/>
<line x1="1037.7" y1="1315.5" x2="1037.7" y2="1433.1" stroke="#000" stroke-width="3.4" stroke-linecap="butt"/>
<line x1="1023.4" y1="1315.5" x2="1052" y2="1315.5" stroke="#000" stroke-width="3.6" stroke-linecap="round"/>
<line x1="1023.4" y1="1433.1" x2="1052" y2="1433.1" stroke="#000" stroke-width="3.6" stroke-linecap="round"/>
<line x1="1195" y1="1414.6" x2="1195" y2="1446.3" stroke="#000" stroke-width="3.4" stroke-linecap="butt"/>
<line x1="1181" y1="1414.6" x2="1209" y2="1414.6" stroke="#000" stroke-width="3.6" stroke-linecap="round"/>
<line x1="1181" y1="1446.3" x2="1209" y2="1446.3" stroke="#000" stroke-width="3.6" stroke-linecap="round"/>
<line x1="1289.2" y1="1375.8" x2="1289.2" y2="1428.1" stroke="#000" stroke-width="3.4" stroke-linecap="butt"/>
<line x1="1275" y1="1375.8" x2="1303.4" y2="1375.8" stroke="#000" stroke-width="3.6" stroke-linecap="round"/>
<line x1="1275" y1="1428.1" x2="1303.4" y2="1428.1" stroke="#000" stroke-width="3.6" stroke-linecap="round"/>
<polyline points="942.3,1369.8 942.3,1219.1 1037,1219.1 1037,1234.5" fill="none" stroke="#000" stroke-width="3" stroke-linejoin="miter" stroke-linecap="butt"/>
<polyline points="1194.5,1387.2 1194.5,1217.1 1289.2,1217.1 1289.2,1325.4" fill="none" stroke="#000" stroke-width="3" stroke-linejoin="miter" stroke-linecap="butt"/>
<text x="981.49" y="1224.65" font-size="42.97" font-weight="bold">*</text>
<text x="1232.9" y="1225.62" font-size="40.68" font-weight="bold">*</text>
<circle cx="943" cy="1389.7" r="3.6" fill="#8A8AFF"/>
<circle cx="938.1" cy="1411.9" r="3.6" fill="#8A8AFF"/>
<circle cx="948" cy="1416.9" r="3.6" fill="#8A8AFF"/>
<circle cx="933.1" cy="1431.3" r="3.6" fill="#8A8AFF"/>
<circle cx="953" cy="1433.3" r="3.6" fill="#8A8AFF"/>
<circle cx="943" cy="1435.1" r="3.6" fill="#8A8AFF"/>
<circle cx="1195" cy="1402.7" r="3.6" fill="#8A8AFF"/>
<circle cx="1195" cy="1416.9" r="3.6" fill="#8A8AFF"/>
<circle cx="1204.5" cy="1425.1" r="3.6" fill="#8A8AFF"/>
<circle cx="1185.8" cy="1430.1" r="3.6" fill="#8A8AFF"/>
<circle cx="1195" cy="1431.8" r="3.6" fill="#8A8AFF"/>
<circle cx="1185.8" cy="1443.8" r="3.6" fill="#8A8AFF"/>
<circle cx="1204.5" cy="1443.8" r="3.6" fill="#8A8AFF"/>
<circle cx="1195" cy="1450.5" r="3.6" fill="#8A8AFF"/>
<rect x="1034.1" y="1242.1" width="7.2" height="7.2" fill="#FF9E40"/>
<rect x="1034.1" y="1283.7" width="7.2" height="7.2" fill="#FF9E40"/>
<rect x="1034.1" y="1336.3" width="7.2" height="7.2" fill="#FF9E40"/>
<rect x="1034.1" y="1353.5" width="7.2" height="7.2" fill="#FF9E40"/>
<rect x="1029.1" y="1370.4" width="7.2" height="7.2" fill="#FF9E40"/>
<rect x="1039.1" y="1375.4" width="7.2" height="7.2" fill="#FF9E40"/>
<rect x="1034.1" y="1388.6" width="7.2" height="7.2" fill="#FF9E40"/>
<rect x="1034.1" y="1405.3" width="7.2" height="7.2" fill="#FF9E40"/>
<rect x="1047.8" y="1419" width="7.2" height="7.2" fill="#FF9E40"/>
<rect x="1019.2" y="1424.5" width="7.2" height="7.2" fill="#FF9E40"/>
<rect x="1029.1" y="1425.7" width="7.2" height="7.2" fill="#FF9E40"/>
<rect x="1038.6" y="1424.5" width="7.2" height="7.2" fill="#FF9E40"/>
<rect x="1285.6" y="1339.3" width="7.2" height="7.2" fill="#FF9E40"/>
<rect x="1281.1" y="1387.9" width="7.2" height="7.2" fill="#FF9E40"/>
<rect x="1290.6" y="1384.6" width="7.2" height="7.2" fill="#FF9E40"/>
<rect x="1281.1" y="1399.1" width="7.2" height="7.2" fill="#FF9E40"/>
<rect x="1290.6" y="1401.1" width="7.2" height="7.2" fill="#FF9E40"/>
<rect x="1271.1" y="1416.5" width="7.2" height="7.2" fill="#FF9E40"/>
<rect x="1290.6" y="1416.5" width="7.2" height="7.2" fill="#FF9E40"/>
<rect x="1300.5" y="1414.5" width="7.2" height="7.2" fill="#FF9E40"/>
<rect x="1281.1" y="1424" width="7.2" height="7.2" fill="#FF9E40"/>
<ellipse cx="506" cy="495" rx="3.5" ry="1" fill="#777" opacity="0.5"/>
<ellipse cx="519.5" cy="495.5" rx="2.5" ry="0.8" fill="#999" opacity="0.4"/>
</svg>
</body></html>
